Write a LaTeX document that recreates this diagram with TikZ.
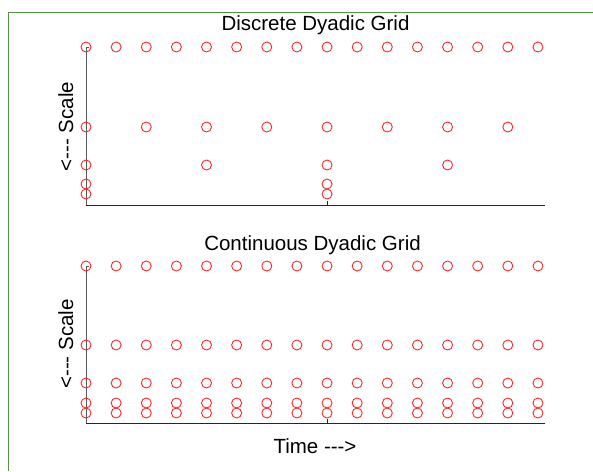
\documentclass[tikz,border=0pt]{standalone}
\usepackage{fontspec}
\setmainfont{Liberation Sans}
\definecolor{framegreen}{RGB}{84,150,62}
\definecolor{ptred}{RGB}{255,40,40}
\begin{document}
\begin{tikzpicture}[x=1pt,y=-1pt,
  gridpt/.style={circle,draw=ptred,line width=0.9pt,minimum size=10pt,inner sep=0pt},
  axisline/.style={line width=0.9pt,draw=black!85},
  vaxis/.style={line width=0.9pt,draw=black!65},
  lbl/.style={font=\fontsize{20.5}{24}\selectfont,inner sep=0pt},
  frameline/.style={line width=1pt,draw=framegreen}]
\useasboundingbox (0,0) rectangle (593,471);
\fill[white] (0,0) rectangle (593,471);
% frame
\coordinate (fa) at (8,471);
\coordinate (fb) at (8,12);
\coordinate (fc) at (593,12);
\draw[frameline] (fa) -- (fb) -- (fc);
% titles
\node[lbl,anchor=base] (title1) at (315.5,30) {Discrete Dyadic Grid};
\node[lbl,anchor=base] (title2) at (312.5,250) {Continuous Dyadic Grid};
\node[lbl,anchor=base] (timelbl) at (315,453) {Time -{}-{}->};
\node[lbl,anchor=base,rotate=90] (scale1) at (73,126.5) {<-{}-{}- Scale};
\node[lbl,anchor=base,rotate=90] (scale2) at (73,344) {<-{}-{}- Scale};
% axes top
\coordinate (a1top) at (86,47);
\coordinate (a1org) at (86,205);
\coordinate (a1end) at (545,205);
\coordinate (a1tk) at (327,205);
\coordinate (a1tkt) at (327,201);
\coordinate (a1ttk) at (89,47);
\draw[vaxis] (a1ttk) -- (a1top) -- (a1org);
\draw[axisline] (a1org) -- (a1end);
\draw[axisline] (a1tk) -- (a1tkt);
% axes bottom
\coordinate (a2top) at (86,266);
\coordinate (a2org) at (86,423);
\coordinate (a2end) at (545,423);
\coordinate (a2tk) at (327,423);
\coordinate (a2tkt) at (327,419);
\coordinate (a2ttk) at (89,266);
\draw[vaxis] (a2ttk) -- (a2top) -- (a2org);
\draw[axisline] (a2org) -- (a2end);
\draw[axisline] (a2tk) -- (a2tkt);
% discrete grid
\foreach \c in {0,...,15} \node[gridpt] (d1-\c) at ({86+30.13*\c},47) {};
\foreach \c in {0,2,...,14} \node[gridpt] (d2-\c) at ({86+30.13*\c},127) {};
\foreach \c in {0,4,8,12} \node[gridpt] (d3-\c) at ({86+30.13*\c},165) {};
\foreach \c in {0,8} \node[gridpt] (d4-\c) at ({86+30.13*\c},184) {};
\foreach \c in {0,8} \node[gridpt] (d5-\c) at ({86+30.13*\c},194) {};
% continuous grid
\foreach \y [count=\r] in {266,345,383,403,413}
  \foreach \c in {0,...,15} \node[gridpt] (c\r-\c) at ({86+30.13*\c},\y) {};
\end{tikzpicture}
\end{document}
